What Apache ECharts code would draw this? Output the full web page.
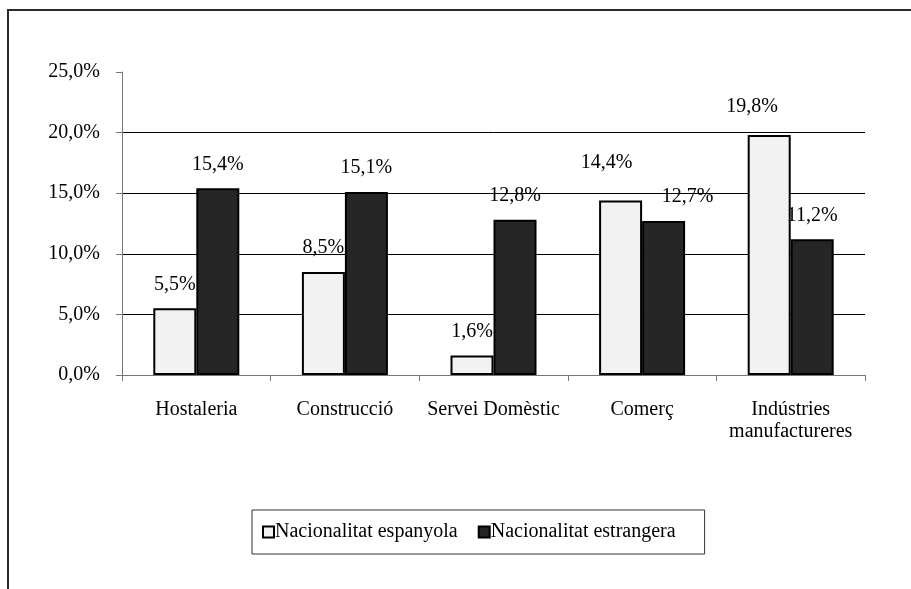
<!DOCTYPE html>
<html>
<head>
<meta charset="utf-8">
<script src="https://cdn.jsdelivr.net/npm/echarts@6/dist/echarts.min.js"></script>
<style>
  html, body { margin: 0; padding: 0; background: #fff; }
  #chart { width: 911px; height: 589px; }
</style>
</head>
<body>
<div id="chart"></div>
<script>
// Sectors and shares of workers by nationality (%)
const categories = ['Hostaleria', 'Construcció', 'Servei Domèstic', 'Comerç', 'Indústries\nmanufactureres'];
const espanyola = [5.5, 8.5, 1.6, 14.4, 19.8];
const estrangera = [15.4, 15.1, 12.8, 12.7, 11.2];
const seriesNames = ['Nacionalitat espanyola', 'Nacionalitat estrangera'];

const FONT = '"Liberation Serif", "Times New Roman", serif';
const pct = v => v.toFixed(1).replace('.', ',') + '%';

// Nudge the labels of neighbouring bars apart where they would collide
const espanyolaLabelOffset = [[0, 0], [0, 0], [0, 0], [-14, -14], [-17, -4]];
const estrangeraLabelOffset = [[0, 0], [0, 0], [0, 0], [24, 0], [0, 0]];

const chart = echarts.init(document.getElementById('chart'), null, { renderer: 'canvas' });

const labelStyle = {
  show: true,
  position: 'top',
  distance: 14,
  fontFamily: FONT,
  fontSize: 20,
  color: '#000',
  formatter: p => pct(p.value)
};

const withOffsets = (values, offsets) =>
  values.map((v, i) => ({ value: v, label: { offset: offsets[i] } }));

chart.setOption({
  animation: false,
  backgroundColor: '#fff',
  graphic: [
    { type: 'line', shape: { x1: 7, y1: 10, x2: 911, y2: 10 }, style: { stroke: '#2b2b2b', lineWidth: 2 } },
    { type: 'line', shape: { x1: 8, y1: 10, x2: 8, y2: 589 }, style: { stroke: '#2b2b2b', lineWidth: 2 } }
  ],
  grid: { left: 122, right: 46, top: 72, bottom: 214 },
  legend: {
    data: seriesNames,
    left: 252,
    top: 510,
    padding: [12, 29, 12, 10],
    borderColor: '#333',
    borderWidth: 1,
    icon: 'rect',
    itemWidth: 11,
    itemHeight: 11,
    itemGap: 20,
    textStyle: { fontFamily: FONT, fontSize: 20, color: '#000', padding: [0, 0, 0, -4] }
  },
  xAxis: {
    type: 'category',
    data: categories,
    axisLine: { lineStyle: { color: '#777', width: 1 } },
    axisTick: { show: true, length: 6, lineStyle: { color: '#777' } },
    axisLabel: { interval: 0, fontFamily: FONT, fontSize: 20, color: '#000', margin: 24, lineHeight: 22 }
  },
  yAxis: {
    type: 'value',
    min: 0,
    max: 25,
    interval: 5,
    axisLine: { show: true, lineStyle: { color: '#777', width: 1 } },
    axisTick: { show: true, length: 6, lineStyle: { color: '#777' } },
    axisLabel: { fontFamily: FONT, fontSize: 20, color: '#000', margin: 22, formatter: v => pct(v) },
    splitLine: { show: true, lineStyle: { color: ['#000', '#000', '#000', '#000', '#000', 'rgba(0,0,0,0)'], width: 1 } }
  },
  series: [
    {
      name: seriesNames[0],
      type: 'bar',
      data: withOffsets(espanyola, espanyolaLabelOffset),
      barWidth: 43,
      barGap: '0%',
      itemStyle: { color: '#f2f2f2', borderColor: '#000', borderWidth: 2 },
      label: labelStyle
    },
    {
      name: seriesNames[1],
      type: 'bar',
      data: withOffsets(estrangera, estrangeraLabelOffset),
      barWidth: 43,
      barGap: '0%',
      itemStyle: { color: '#262626', borderColor: '#000', borderWidth: 2 },
      label: labelStyle
    }
  ]
});
</script>
</body>
</html>
